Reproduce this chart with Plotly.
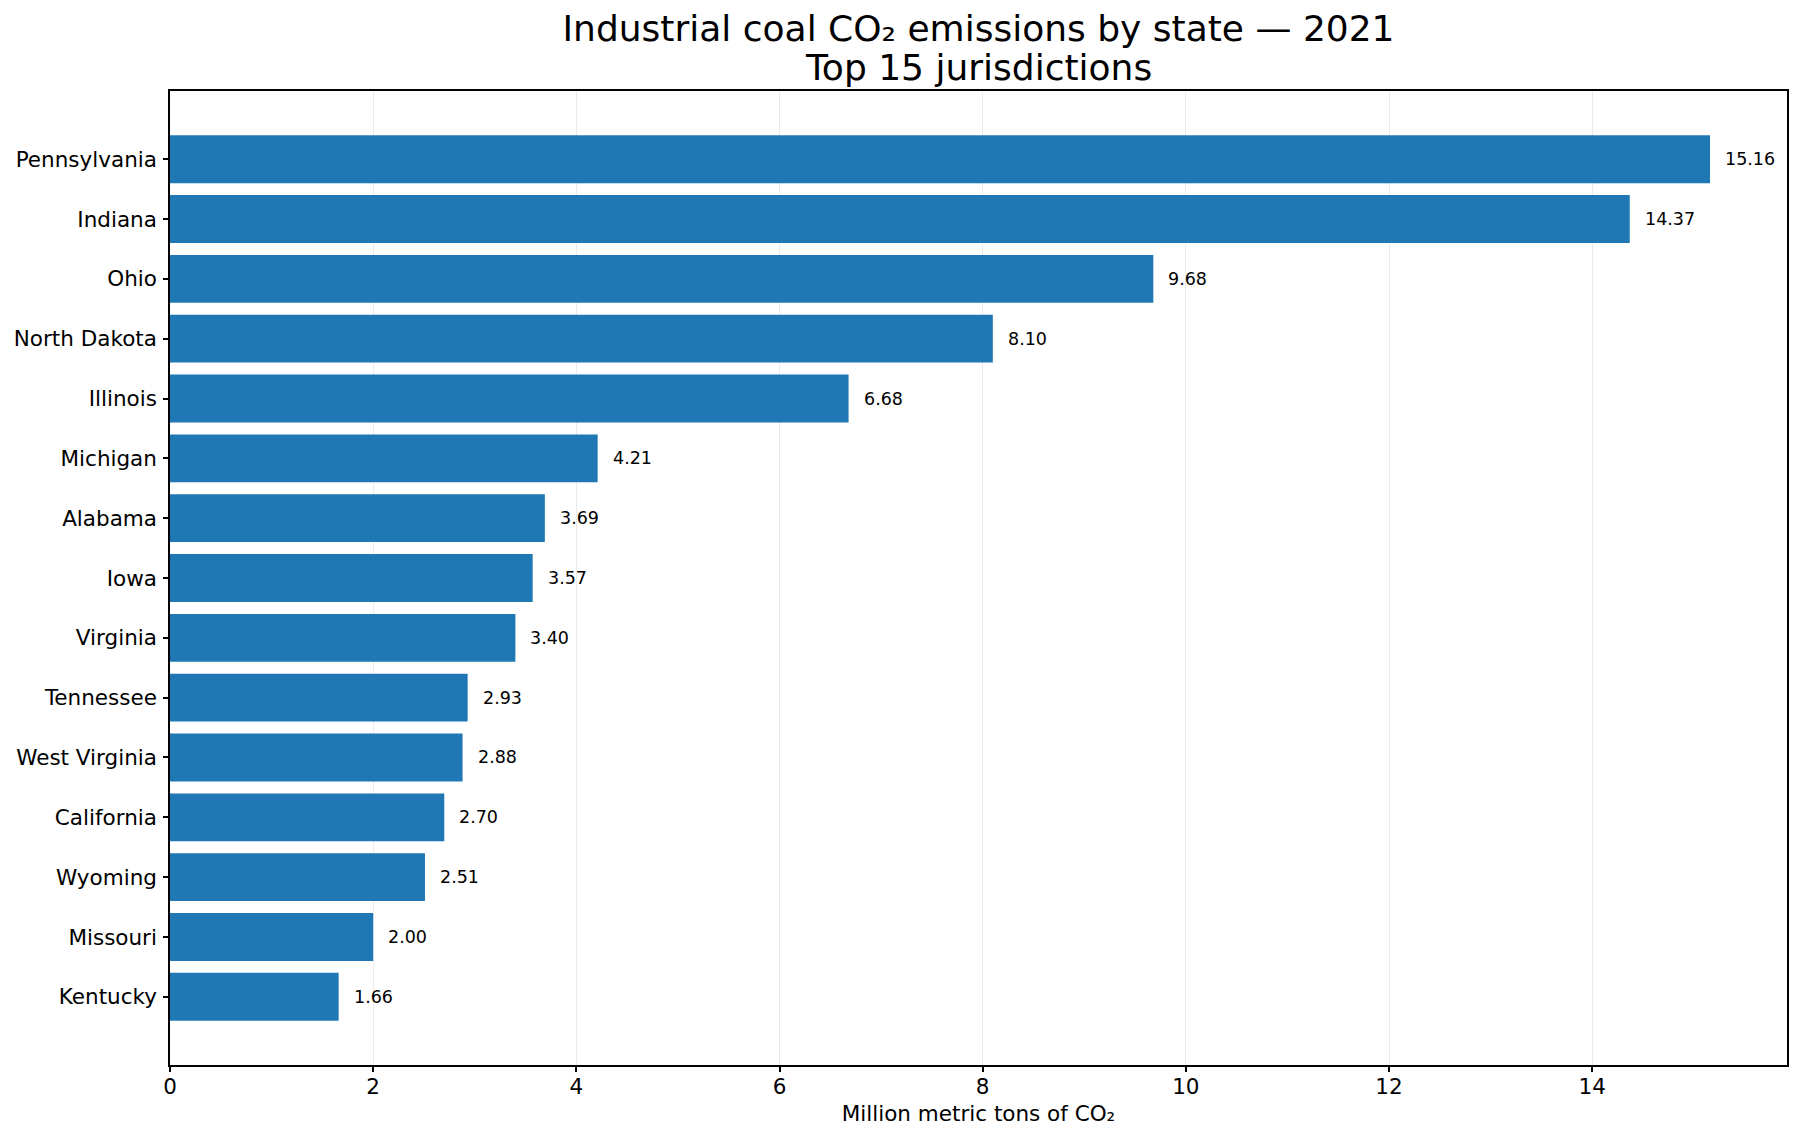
import plotly.graph_objects as go

# top 15 states, 2021, million metric tons CO2
states = ["Pennsylvania", "Indiana", "Ohio", "North Dakota", "Illinois",
          "Michigan", "Alabama", "Iowa", "Virginia", "Tennessee",
          "West Virginia", "California", "Wyoming", "Missouri", "Kentucky"]
emissions = [15.16, 14.37, 9.68, 8.10, 6.68,
             4.21, 3.69, 3.57, 3.40, 2.93,
             2.88, 2.70, 2.51, 2.00, 1.66]
x_ticks = [0, 2, 4, 6, 8, 10, 12, 14]

title_main = "Industrial coal CO₂ emissions by state — 2021"
title_sub = "Top 15 jurisdictions"

FONT = "DejaVu Sans"
BAR_COLOR = "#1f77b4"

# page body has an 8px margin, so the figure is a bit smaller than the window
W, H = 1791, 1130
ml, mr, mt, mb = 162, 12, 83, 73
plot_h = H - mt - mb

fig = go.Figure()
fig.add_trace(go.Bar(
    x=emissions,
    y=states,
    orientation="h",
    width=0.8,
    marker=dict(color=BAR_COLOR, line=dict(width=0)),
    hoverinfo="x+y",
))

# value labels just past the end of each bar
for s, v in zip(states, emissions):
    fig.add_annotation(x=v, y=s, text="%.2f" % v, showarrow=False,
                       xanchor="left", yanchor="middle", xshift=13,
                       font=dict(family=FONT, size=17.5, color="black"))

# second title line, placed separately to keep matplotlib-like line spacing
fig.add_annotation(x=0.5, xref="paper", y=1 + (mt - 59) / plot_h, yref="paper",
                   text=title_sub, showarrow=False, xanchor="center", yanchor="middle",
                   font=dict(family=FONT, size=36, color="black"))

n = len(states)
xmax = max(emissions) * 1.05

fig.update_layout(
    width=W, height=H,
    paper_bgcolor="white", plot_bgcolor="white",
    margin=dict(l=ml, r=mr, t=mt, b=mb, autoexpand=False),
    showlegend=False,
    font=dict(family=FONT, color="black"),
    title=dict(text=title_main,
               x=(ml + (W - ml - mr) / 2) / W, xanchor="center",
               y=1 - 20 / H, yanchor="middle",
               font=dict(family=FONT, size=36, color="black")),
    xaxis=dict(
        range=[0, xmax], tickvals=x_ticks, ticktext=[str(t) for t in x_ticks],
        automargin=False,
        showgrid=True, gridcolor="#ebebeb", gridwidth=1,
        zeroline=False, showline=True, linecolor="black", linewidth=1.5, mirror=True,
        ticks="outside", ticklen=5, tickwidth=1.5, tickcolor="black",
        ticklabelstandoff=-4,
        tickfont=dict(family=FONT, size=21.5, color="black"),
        title=dict(text="Million metric tons of CO₂", standoff=8,
                   font=dict(family=FONT, size=21.5, color="black")),
    ),
    yaxis=dict(
        type="category", categoryorder="array", categoryarray=states,
        range=[n - 1 + 1.14, -1.14],
        automargin=False,
        showgrid=False, zeroline=False,
        showline=True, linecolor="black", linewidth=1.5, mirror=True,
        ticks="outside", ticklen=5, tickwidth=1.5, tickcolor="black",
        ticklabelstandoff=2,
        tickfont=dict(family=FONT, size=21.5, color="black"),
    ),
)

fig.write_html("out.html")
